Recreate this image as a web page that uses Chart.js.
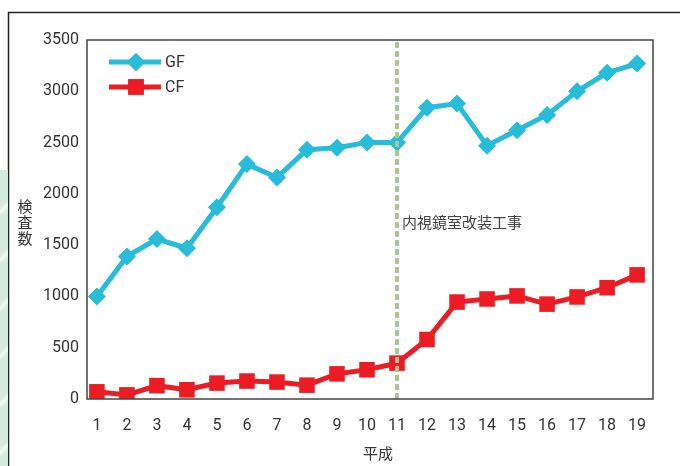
<!DOCTYPE html>
<html>
<head>
<meta charset="utf-8">
<script src="https://cdn.jsdelivr.net/npm/chart.js@4"></script>
<style>
  html, body { margin: 0; padding: 0; background: #fff; }
  #wrap { position: relative; width: 680px; height: 466px; }
  #chart { display: block; }
  #deco {
    position: absolute; left: 0; top: 170px; width: 8px; height: 296px;
    background: repeating-linear-gradient(135deg, #d3eadf 0px, #d3eadf 26px, #f2f9f5 30px, #d3eadf 34px);
  }
</style>
</head>
<body>
<div id="wrap">
  <div id="deco"></div>
  <canvas id="chart" width="680" height="466"></canvas>
</div>
<script>
const years = [1, 2, 3, 4, 5, 6, 7, 8, 9, 10, 11, 12, 13, 14, 15, 16, 17, 18, 19];
const gfValues = [1000, 1390, 1560, 1470, 1870, 2290, 2160, 2430, 2450, 2500, 2500, 2840, 2880, 2470, 2620, 2770, 3000, 3180, 3270];
const cfValues = [70, 40, 130, 90, 155, 175, 165, 135, 245, 285, 350, 580, 945, 975, 1005, 925, 995, 1085, 1210];
const yTicks = [0, 500, 1000, 1500, 2000, 2500, 3000, 3500];
const markerYear = 11;
const markerLabel = '内視鏡室改装工事';

const cyan = '#27bcd7';
const red = '#ec1c24';
const textColor = '#333333';
const jpFont = '"Noto Sans CJK JP", sans-serif';

const decorations = {
    id: 'decorations',
    beforeDraw(chart) {
        const ctx = chart.ctx;
        ctx.save();
        ctx.strokeStyle = '#222';
        ctx.lineWidth = 1.5;
        ctx.beginPath();
        ctx.moveTo(8.5, 466);
        ctx.lineTo(8.5, 12.5);
        ctx.lineTo(680, 12.5);
        ctx.stroke();
        ctx.restore();
    },
    afterDatasetsDraw(chart) {
        const ctx = chart.ctx;
        const area = chart.chartArea;
        const x = chart.scales.x.getPixelForValue(markerYear);
        ctx.save();
        ctx.strokeStyle = '#a9c792';
        ctx.lineWidth = 4;
        ctx.setLineDash([6, 3]);
        ctx.beginPath();
        ctx.moveTo(x, area.top + 2);
        ctx.lineTo(x, area.bottom);
        ctx.stroke();
        ctx.restore();
    },
    afterDraw(chart) {
        const ctx = chart.ctx;
        const area = chart.chartArea;
        ctx.save();
        // plot frame
        ctx.strokeStyle = '#444';
        ctx.lineWidth = 1.5;
        ctx.strokeRect(area.left, area.top, area.right - area.left, area.bottom - area.top);

        // annotation text
        const x = chart.scales.x.getPixelForValue(markerYear);
        ctx.fillStyle = '#444';
        ctx.font = '15px ' + jpFont;
        ctx.textAlign = 'left';
        ctx.textBaseline = 'middle';
        ctx.fillText(markerLabel, x + 5, 222);

        // axis titles
        ctx.fillStyle = textColor;
        ctx.textAlign = 'center';
        ['検', '査', '数'].forEach((c, i) => ctx.fillText(c, 25, 206 + i * 16));
        ctx.fillText('平成', (area.left + area.right) / 2 + 8, 453);

        // legend
        const items = [
            { label: 'GF', color: cyan, style: 'rectRot', r: 9, y: 62 },
            { label: 'CF', color: red, style: 'rect', r: 11, y: 87 }
        ];
        items.forEach(it => {
            ctx.strokeStyle = it.color;
            ctx.fillStyle = it.color;
            ctx.lineWidth = 5;
            ctx.beginPath();
            ctx.moveTo(109, it.y);
            ctx.lineTo(161, it.y);
            ctx.stroke();
            Chart.helpers.drawPoint(ctx, { pointStyle: it.style, radius: it.r, borderWidth: 0 }, 136, it.y);
            ctx.fill();
            ctx.fillStyle = textColor;
            ctx.font = '16px Roboto, sans-serif';
            ctx.textAlign = 'left';
            ctx.textBaseline = 'middle';
            ctx.fillText(it.label, 165, it.y + 1);
        });
        ctx.restore();
    }
};

new Chart(document.getElementById('chart').getContext('2d'), {
    type: 'line',
    data: {
        datasets: [{
            label: 'GF',
            data: years.map((yr, i) => ({ x: yr, y: gfValues[i] })),
            borderColor: cyan,
            backgroundColor: cyan,
            borderWidth: 5,
            pointStyle: 'rectRot',
            pointRadius: 9,
            pointBorderWidth: 0,
            tension: 0
        }, {
            label: 'CF',
            data: years.map((yr, i) => ({ x: yr, y: cfValues[i] })),
            borderColor: red,
            backgroundColor: red,
            borderWidth: 5,
            pointStyle: 'rect',
            pointRadius: 11,
            pointBorderWidth: 0,
            tension: 0
        }]
    },
    options: {
        responsive: false,
        animation: false,
        layout: { padding: { top: 40, right: 27, left: 0, bottom: 0 } },
        plugins: {
            legend: { display: false },
            tooltip: { enabled: false }
        },
        scales: {
            x: {
                type: 'linear',
                min: 0.67,
                max: 19.53,
                afterBuildTicks: (scale) => { scale.ticks = years.map(v => ({ value: v })); },
                afterFit: (scale) => { scale.height = 67; },
                grid: { display: false, drawTicks: false },
                border: { display: false },
                ticks: {
                    padding: 17,
                    color: textColor,
                    font: { family: 'Roboto', size: 16 },
                    maxRotation: 0,
                    autoSkip: false
                }
            },
            y: {
                min: 0,
                max: 3500,
                afterBuildTicks: (scale) => { scale.ticks = yTicks.map(v => ({ value: v })); },
                afterFit: (scale) => { scale.width = 87; },
                grid: { display: false, drawTicks: false },
                border: { display: false },
                ticks: {
                    padding: 8,
                    color: textColor,
                    font: { family: 'Roboto', size: 16 },
                    callback: (v) => String(v)
                }
            }
        }
    },
    plugins: [decorations]
});
</script>
</body>
</html>
